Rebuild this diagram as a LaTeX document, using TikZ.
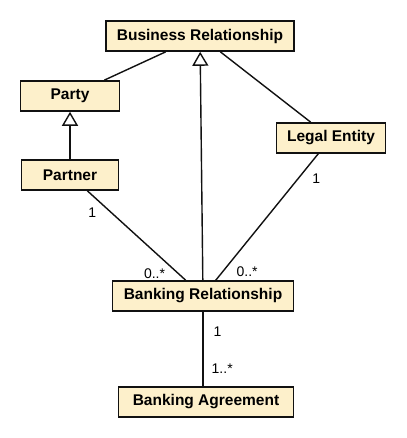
\documentclass[tikz,border=0pt]{standalone}
\usepackage{fontspec}
\setmainfont{Liberation Sans}
\usepackage{tikz}
\usetikzlibrary{
    arrows.meta,
    positioning
}
\definecolor{umlfill}{HTML}{FDF0CB}
\definecolor{umlline}{HTML}{111111}
\tikzset{
    % Class box
    classbox/.style={
        rectangle,
        draw=umlline,
        fill=umlfill,
        line width=1.6pt,
        text=black,
        font=\fontsize{15.5}{17}\selectfont\bfseries,
        minimum height=30pt,
        minimum width=#1,
        align=center,
        inner xsep=8pt,
        inner ysep=2pt
    },
    classbox/.default=0pt,
    % Plain association
    assoc/.style={
        draw=umlline,
        line width=1.4pt
    },
    % Generalization arrow
    inherit/.style={
        draw=umlline,
        line width=1.4pt,
        -{Triangle[open, width=16pt, length=14pt, fill=white]}
    },
    % Multiplicity label
    mult/.style={
        font=\fontsize{14}{16}\selectfont,
        inner sep=1pt
    }
}

\begin{document}
\begin{tikzpicture}[x=1pt, y=-1pt]

    \useasboundingbox (0,0) rectangle (406,438);

    % Classes
    \node[classbox=188pt] (bizrel) at (200,36) {Business Relationship};
    \node[classbox=99pt] (party) at (70,96) {Party};
    \node[classbox=97pt] (partner) at (70,175) {Partner};
    \node[classbox=109pt] (legal) at (331,138) {Legal Entity};
    \node[classbox=181pt] (bankrel) at (203,296) {Banking Relationship};
    \node[classbox=175pt] (bankagr) at (206,402) {Banking Agreement};

    % Associations to Business Relationship
    \draw[assoc] (bizrel) -- (party);
    \draw[assoc] (bizrel) -- (legal);

    % Generalizations
    \draw[inherit] (partner) -- (party);
    \draw[inherit] (bankrel) -- (bizrel);

    % Partner -- Banking Relationship
    \draw[assoc] (partner) --
        node[mult, pos=0.25, left=14pt] {1}
        node[mult, pos=0.93, left=12pt] {0..*} (bankrel);

    % Legal Entity -- Banking Relationship
    \draw[assoc] (legal) --
        node[mult, pos=0.2, right=13pt] {1}
        node[mult, pos=0.93, right=12pt] {0..*} (bankrel);

    % Banking Relationship -- Banking Agreement
    \draw[assoc] (bankrel.south) --
        node[mult, pos=0.27, right=9pt] {1}
        node[mult, pos=0.77, right=7pt] {1..*} (bankrel.south |- bankagr.north);

\end{tikzpicture}
\end{document}
